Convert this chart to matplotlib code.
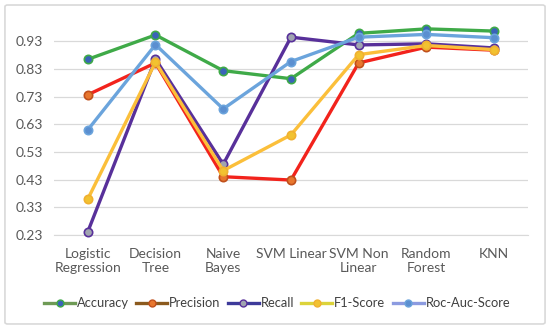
import matplotlib.pyplot as plt
from matplotlib.lines import Line2D
from matplotlib.patches import FancyBboxPatch

plt.rcParams['font.family'] = ['Lato', 'DejaVu Sans']

models = ["Logistic\nRegression", "Decision\nTree", "Naive\nBayes", "SVM Linear",
          "SVM Non\nLinear", "Random\nForest", "KNN"]
accuracy = [0.865, 0.953, 0.824, 0.795, 0.959, 0.975, 0.967]
precision = [0.737, 0.852, 0.441, 0.429, 0.852, 0.909, 0.898]
recall = [0.242, 0.866, 0.486, 0.945, 0.917, 0.921, 0.906]
f1_score = [0.360, 0.855, 0.463, 0.592, 0.882, 0.915, 0.900]
roc_auc = [0.610, 0.918, 0.686, 0.857, 0.945, 0.955, 0.943]
y_ticks = [0.23, 0.33, 0.43, 0.53, 0.63, 0.73, 0.83, 0.93]

# (values, line colour, marker face, marker edge, legend line colour)
series = [
    ("Accuracy", accuracy, "#3FAA48", "#3A63B8", "#3FAA48", "#6E9A55"),
    ("Precision", precision, "#F2231C", "#E8772E", "#C0501C", "#8B5A1E"),
    ("Recall", recall, "#58309A", "#A0A4B0", "#58309A", "#3D3A9A"),
    ("F1-Score", f1_score, "#FBBF3A", "#F2C230", "#F0B030", "#DCD33A"),
    ("Roc-Auc-Score", roc_auc, "#6BA4DC", "#5B8FD0", "#6BA4DC", "#8C9BE0"),
]

fig = plt.figure(figsize=(5.5, 3.34), dpi=100)
fig.patches.append(FancyBboxPatch((0.009, 0.03), 0.982, 0.955,
                                  boxstyle="round,pad=0,rounding_size=0.005",
                                  transform=fig.transFigure, fill=False,
                                  edgecolor="#D9D9D9", linewidth=1.2))
ax = fig.add_axes([0.098, 0.296, 0.862, 0.63])

x = range(len(models))
for name, vals, lc, mf, me, _ in series:
    ax.plot(x, vals, color=lc, linewidth=2.4, marker="o", markersize=6,
            markerfacecolor=mf, markeredgecolor=me, markeredgewidth=1.2,
            clip_on=False, zorder=3)

ax.set_xlim(-0.5, len(models) - 0.5)
ax.set_ylim(0.23, 0.99)
ax.set_yticks(y_ticks)
ax.set_yticklabels([f"{v:.2f}" for v in y_ticks])
ax.set_xticks(list(x))
ax.set_xticklabels(models, linespacing=1.2)
ax.grid(axis="y", color="#D9D9D9", linewidth=0.9)
ax.set_axisbelow(True)
for s in ["top", "right", "left"]:
    ax.spines[s].set_visible(False)
ax.spines["bottom"].set_color("#D9D9D9")
ax.tick_params(length=0, labelsize=10, colors="#595959")
ax.tick_params(axis="x", pad=9)
ax.tick_params(axis="y", pad=8)

handles = [Line2D([0], [0], color=leg, linewidth=2.4, marker="o", markersize=5,
                  markerfacecolor=mf, markeredgecolor=me)
           for name, vals, lc, mf, me, leg in series]
fig.legend(handles, [s[0] for s in series], loc="center", ncol=5,
           bbox_to_anchor=(0.504, 0.092), frameon=False, fontsize=9.3,
           handlelength=2.4, handletextpad=0.15, columnspacing=0.55,
           labelcolor="#404040")

fig.savefig("out.png", dpi=100)
